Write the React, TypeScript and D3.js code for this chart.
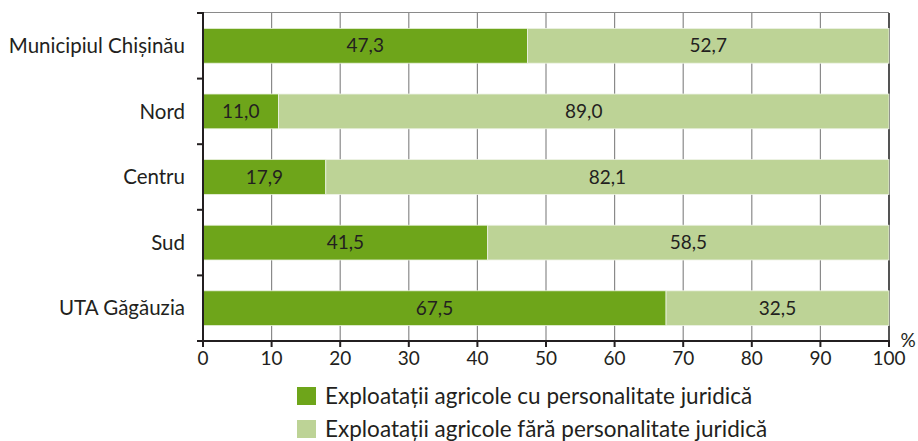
import React from "react";
import * as d3 from "d3";

const categories = ["Municipiul Chișinău", "Nord", "Centru", "Sud", "UTA Găgăuzia"];
const withLegal = [47.3, 11.0, 17.9, 41.5, 67.5];
const withoutLegal = [52.7, 89.0, 82.1, 58.5, 32.5];
const xTicks = [0, 10, 20, 30, 40, 50, 60, 70, 80, 90, 100];
const seriesNames = [
  "Exploatații agricole cu personalitate juridică",
  "Exploatații agricole fără personalitate juridică",
];
const colors = ["#6ea51a", "#bdd396"];

export default function App() {
  const W = 918, H = 441;
  const left = 203, right = 889, top = 13, bottom = 341;
  const x = d3.scaleLinear().domain([0, 100]).range([left, right]);
  const y = d3.scaleBand().domain(categories).range([top, bottom]).paddingInner(0.47).paddingOuter(0.235);
  const fmt = (v: number) => v.toFixed(1).replace(".", ",");
  const font = "Lato, 'Open Sans', sans-serif";
  const boundaries = d3.range(categories.length + 1).map(i => top + (i * (bottom - top)) / categories.length);

  return (
    <svg width={W} height={H} style={{ position: "absolute", left: 0, top: 0 }} fontFamily={font}>
      <rect width={W} height={H} fill="#fff" />
      {/* gridlines */}
      {xTicks.slice(1).map(t => (
        <line key={t} x1={x(t)} x2={x(t)} y1={top} y2={bottom} stroke="#8a8a8a" strokeWidth={1.2} />
      ))}
      <line x1={left} x2={right} y1={top - 0.5} y2={top - 0.5} stroke="#8a8a8a" strokeWidth={1.2} />
      <line x1={right} x2={right} y1={top} y2={bottom} stroke="#333" strokeWidth={1.5} />
      {/* bars */}
      {categories.map((c, i) => {
        const by = y(c)!;
        const bh = y.bandwidth();
        return (
          <g key={c}>
            <rect x={x(0)} y={by} width={x(withLegal[i]) - x(0)} height={bh} fill={colors[0]} stroke="#e8f0dc" strokeWidth={0.8} />
            <rect x={x(withLegal[i])} y={by} width={x(withLegal[i] + withoutLegal[i]) - x(withLegal[i])} height={bh} fill={colors[1]} stroke="#eef3e6" strokeWidth={0.8} />
            <text x={(x(0) + x(withLegal[i])) / 2} y={by + bh / 2} dy="0.35em" textAnchor="middle" fontSize={19} fill="#231f20">{fmt(withLegal[i])}</text>
            <text x={(x(withLegal[i]) + x(100)) / 2} y={by + bh / 2} dy="0.35em" textAnchor="middle" fontSize={19} fill="#231f20">{fmt(withoutLegal[i])}</text>
            <text x={left - 18} y={by + bh / 2} dy="0.35em" textAnchor="end" fontSize={20.5} fill="#231f20">{c}</text>
          </g>
        );
      })}
      {/* left axis */}
      <line x1={left} x2={left} y1={top - 1} y2={bottom} stroke="#231f20" strokeWidth={2} />
      {boundaries.map((b, i) => (
        <line key={i} x1={left - 6} x2={left} y1={b} y2={b} stroke="#231f20" strokeWidth={2} />
      ))}
      {/* bottom axis */}
      <line x1={left - 6} x2={right + 1} y1={bottom} y2={bottom} stroke="#231f20" strokeWidth={2} />
      {xTicks.map(t => (
        <g key={t}>
          <line x1={x(t)} x2={x(t)} y1={bottom} y2={bottom + 6} stroke="#231f20" strokeWidth={2} />
          <text x={x(t)} y={bottom + 24} textAnchor="middle" fontSize={19} fill="#231f20">{t}</text>
        </g>
      ))}
      <text x={908} y={bottom + 6} textAnchor="middle" fontSize={19} fill="#231f20">%</text>
      {/* legend */}
      {seriesNames.map((s, i) => (
        <g key={s}>
          <rect x={297} y={387 + i * 33} width={19} height={18} fill={colors[i]} />
          <text x={325} y={396 + i * 33} dy="0.35em" fontSize={22.5} fill="#231f20">{s}</text>
        </g>
      ))}
    </svg>
  );
}
